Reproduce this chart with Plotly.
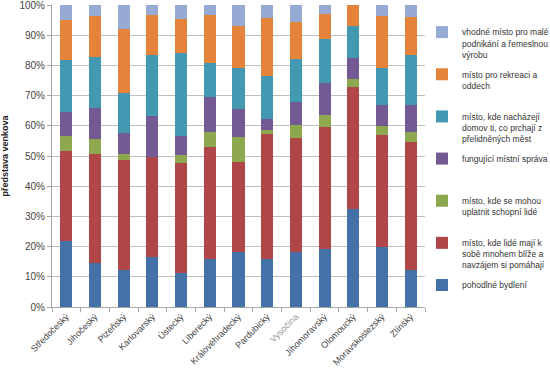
import plotly.graph_objects as go

regions = ["Středočeský", "Jihočeský", "Plzeňský", "Karlovarský", "Ústecký", "Liberecký",
           "Královéhradecký", "Pardubický", "Vysočina", "Jihomoravský", "Olomoucký",
           "Moravskoslezský", "Zlínský"]

pohodlne_bydleni = [21.8, 14.7, 12.4, 16.7, 11.4, 15.9, 18.2, 15.8, 18.2, 19.3, 32.4, 19.8, 12.2]
lide_si_blize = [29.8, 35.9, 36.3, 32.9, 36.3, 37.1, 29.8, 41.4, 37.8, 40.3, 40.4, 37.0, 42.4]
schopni_lide = [5.0, 5.1, 2.1, 0.0, 2.6, 5.1, 8.4, 1.5, 4.2, 3.9, 2.8, 3.1, 3.3]
mistni_sprava = [7.9, 10.3, 6.7, 13.8, 6.3, 11.3, 9.1, 3.4, 7.8, 10.8, 6.8, 7.1, 9.0]
domov_z_mest = [17.4, 16.8, 13.2, 20.0, 27.4, 11.3, 13.8, 14.3, 14.1, 14.3, 10.7, 12.3, 16.5]
rekreace = [13.2, 13.7, 21.3, 13.3, 11.4, 16.0, 13.8, 19.4, 12.4, 8.3, 6.9, 16.9, 12.6]
podnikani = [4.9, 3.5, 8.0, 3.3, 4.6, 3.3, 6.9, 4.2, 5.5, 3.1, 0.0, 3.8, 4.0]

series = [
    ("pohodlné bydlení<br> <br> ", pohodlne_bydleni, "#4371a8"),
    ("místo, kde lidé mají k<br>sobě mnohem blíže a<br>navzájem si pomáhají", lide_si_blize, "#b04647"),
    ("místo, kde se mohou<br>uplatnit schopní lidé<br> ", schopni_lide, "#8ea84f"),
    ("fungující místní správa<br> <br> ", mistni_sprava, "#735a92"),
    ("místo, kde nacházejí<br>domov ti, co prchají z<br>přelidněných měst", domov_z_mest, "#4299b1"),
    ("místo pro rekreaci a<br>oddech<br> ", rekreace, "#e3843a"),
    ("vhodné místo pro malé<br>podnikání a řemeslnou<br>výrobu", podnikani, "#96aad4"),
]

tick_labels = [r if r != "Vysočina" else "<span style='color:#9a9a9a'>Vysočina</span>" for r in regions]

fig = go.Figure()
n = len(series)
for i, (name, vals, col) in enumerate(series):
    fig.add_trace(go.Bar(x=regions, y=vals, name=name, marker=dict(color=col, line=dict(width=0)),
                         legendgroup="g%d" % i, legendrank=100 * (n - i)))

fig.update_layout(
    barmode="stack",
    bargap=0.58,
    width=550, height=373,
    margin=dict(l=52, r=125, t=5, b=66, autoexpand=False),
    plot_bgcolor="white", paper_bgcolor="white",
    font=dict(family="Liberation Sans, Arial, sans-serif", color="#333333"),
    showlegend=True,
    legend=dict(traceorder="grouped", tracegroupgap=6, valign="top",
                x=0.992, xanchor="left", y=0.950, yanchor="top",
                font=dict(size=8.5, color="#333333"), bgcolor="rgba(0,0,0,0)"),
    xaxis=dict(tickangle=-45, tickvals=regions, ticktext=tick_labels,
               tickfont=dict(size=9, color="#444444"),
               showline=True, linecolor="#a6a6a6", ticks="outside", tickson="boundaries",
               ticklen=4, tickcolor="#a6a6a6", showgrid=False),
    yaxis=dict(range=[0, 100], tick0=0, dtick=10, ticksuffix="%", ticklabeloverflow="allow",
               tickfont=dict(size=10, color="#444444"),
               showline=True, linecolor="#a6a6a6", ticks="outside", ticklen=4, tickcolor="#a6a6a6",
               showgrid=True, gridcolor="#bfbfbf", gridwidth=1,
               title=dict(text="<b>představa venkova</b>", font=dict(size=9, color="#222222"), standoff=10)),
)

fig.write_html("out.html", config={"displayModeBar": False},
               post_script="document.body.style.margin='0';")
